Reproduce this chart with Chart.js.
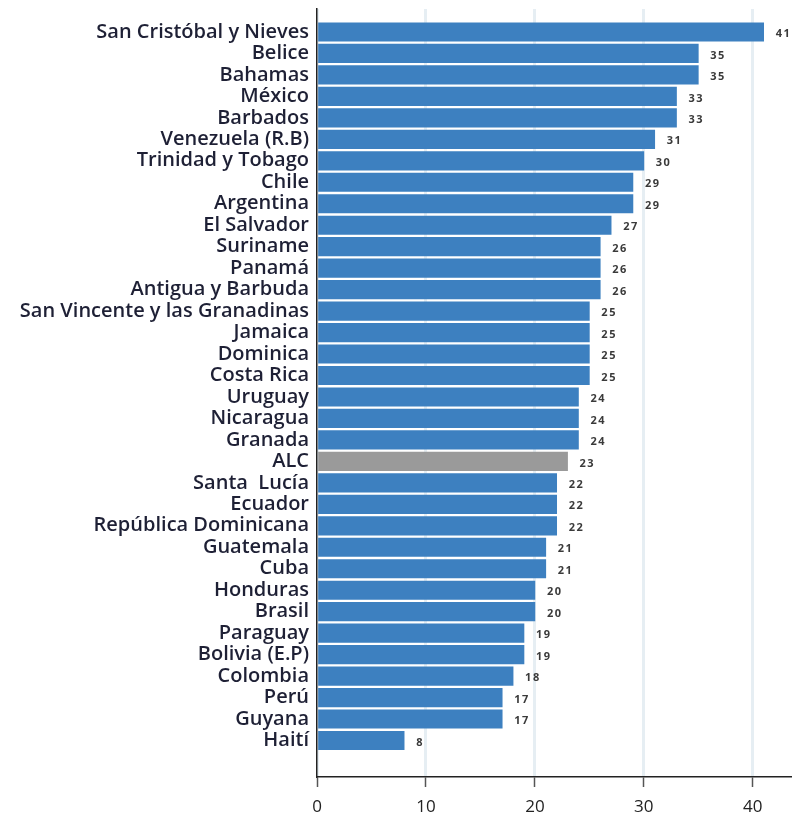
<!DOCTYPE html>
<html>
<head>
<meta charset="utf-8">
<script src="https://cdn.jsdelivr.net/npm/chart.js@4.4.1/dist/chart.umd.min.js"></script>
<style>
  html, body { margin: 0; padding: 0; background: #ffffff; }
  #wrap { width: 792px; height: 813px; }
</style>
</head>
<body>
<div id="wrap"><canvas id="chart" width="792" height="813"></canvas></div>
<script>
// Countries, ordered top to bottom
const countries = [
  'San Cristóbal y Nieves', 'Belice', 'Bahamas', 'México', 'Barbados',
  'Venezuela (R.B)', 'Trinidad y Tobago', 'Chile', 'Argentina', 'El Salvador',
  'Suriname', 'Panamá', 'Antigua y Barbuda', 'San Vincente y las Granadinas',
  'Jamaica', 'Dominica', 'Costa Rica', 'Uruguay', 'Nicaragua', 'Granada',
  'ALC', 'Santa  Lucía', 'Ecuador', 'República Dominicana', 'Guatemala',
  'Cuba', 'Honduras', 'Brasil', 'Paraguay', 'Bolivia (E.P)', 'Colombia',
  'Perú', 'Guyana', 'Haití'
];
const values = [
  41, 35, 35, 33, 33,
  31, 30, 29, 29, 27,
  26, 26, 26, 25,
  25, 25, 25, 24, 24, 24,
  23, 22, 22, 22, 21,
  21, 20, 20, 19, 19, 18,
  17, 17, 8
];
const xTicks = [0, 10, 20, 30, 40];
const regionalAverage = 'ALC';

const BLUE = '#3d80c0';
const GREY = '#9a9a9a';

// Value labels just past the end of each bar
const valueLabels = {
  id: 'valueLabels',
  afterDatasetsDraw(chart) {
    const ctx = chart.ctx;
    const meta = chart.getDatasetMeta(0);
    ctx.save();
    ctx.font = 'bold 11px "Open Sans", sans-serif';
    ctx.fillStyle = '#3a3a3a';
    ctx.textBaseline = 'middle';
    ctx.textAlign = 'left';
    if ('letterSpacing' in ctx) ctx.letterSpacing = '1.5px';
    meta.data.forEach((bar, i) => {
      ctx.fillText(String(values[i]), bar.x + 12, bar.y + 2);
    });
    ctx.restore();
  }
};

new Chart(document.getElementById('chart'), {
  type: 'bar',
  data: {
    datasets: [{
      data: values.map((v, i) => ({ x: v, y: i })),
      backgroundColor: countries.map(c => c === regionalAverage ? GREY : BLUE),
      borderWidth: 0,
      barThickness: 18.5
    }]
  },
  options: {
    indexAxis: 'y',
    responsive: false,
    animation: false,
    layout: { padding: { top: 9, right: 0, bottom: 0, left: 0 } },
    plugins: {
      legend: { display: false },
      tooltip: { enabled: false }
    },
    scales: {
      x: {
        type: 'linear',
        min: 0,
        max: 43.6,
        afterBuildTicks: s => { s.ticks = xTicks.map(v => ({ value: v })); },
        afterFit: s => { s.height = 36; },
        ticks: {
          font: { family: '"Open Sans", sans-serif', size: 17 },
          color: '#222222',
          padding: 10,
          maxRotation: 0
        },
        grid: {
          color: '#e6eef3',
          lineWidth: 3,
          drawTicks: true,
          tickLength: 10,
          tickColor: '#555555',
          tickWidth: 1.5
        },
        border: { display: true, color: '#222222', width: 1.5 }
      },
      y: {
        type: 'linear',
        reverse: true,
        offset: false,
        min: -1.07,
        max: 34.70,
        afterBuildTicks: s => { s.ticks = countries.map((_, i) => ({ value: i })); },
        afterFit: s => { s.width = 317; s.paddingTop = 0; s.paddingBottom = 0; },
        ticks: {
          autoSkip: false,
          callback: v => countries[v],
          font: { family: '"Open Sans", sans-serif', size: 20, weight: '600' },
          color: '#1e2035',
          padding: 8
        },
        grid: { display: false, drawTicks: false, offset: false },
        border: { display: true, color: '#222222', width: 1.5 }
      }
    }
  },
  plugins: [valueLabels]
});
</script>
</body>
</html>
